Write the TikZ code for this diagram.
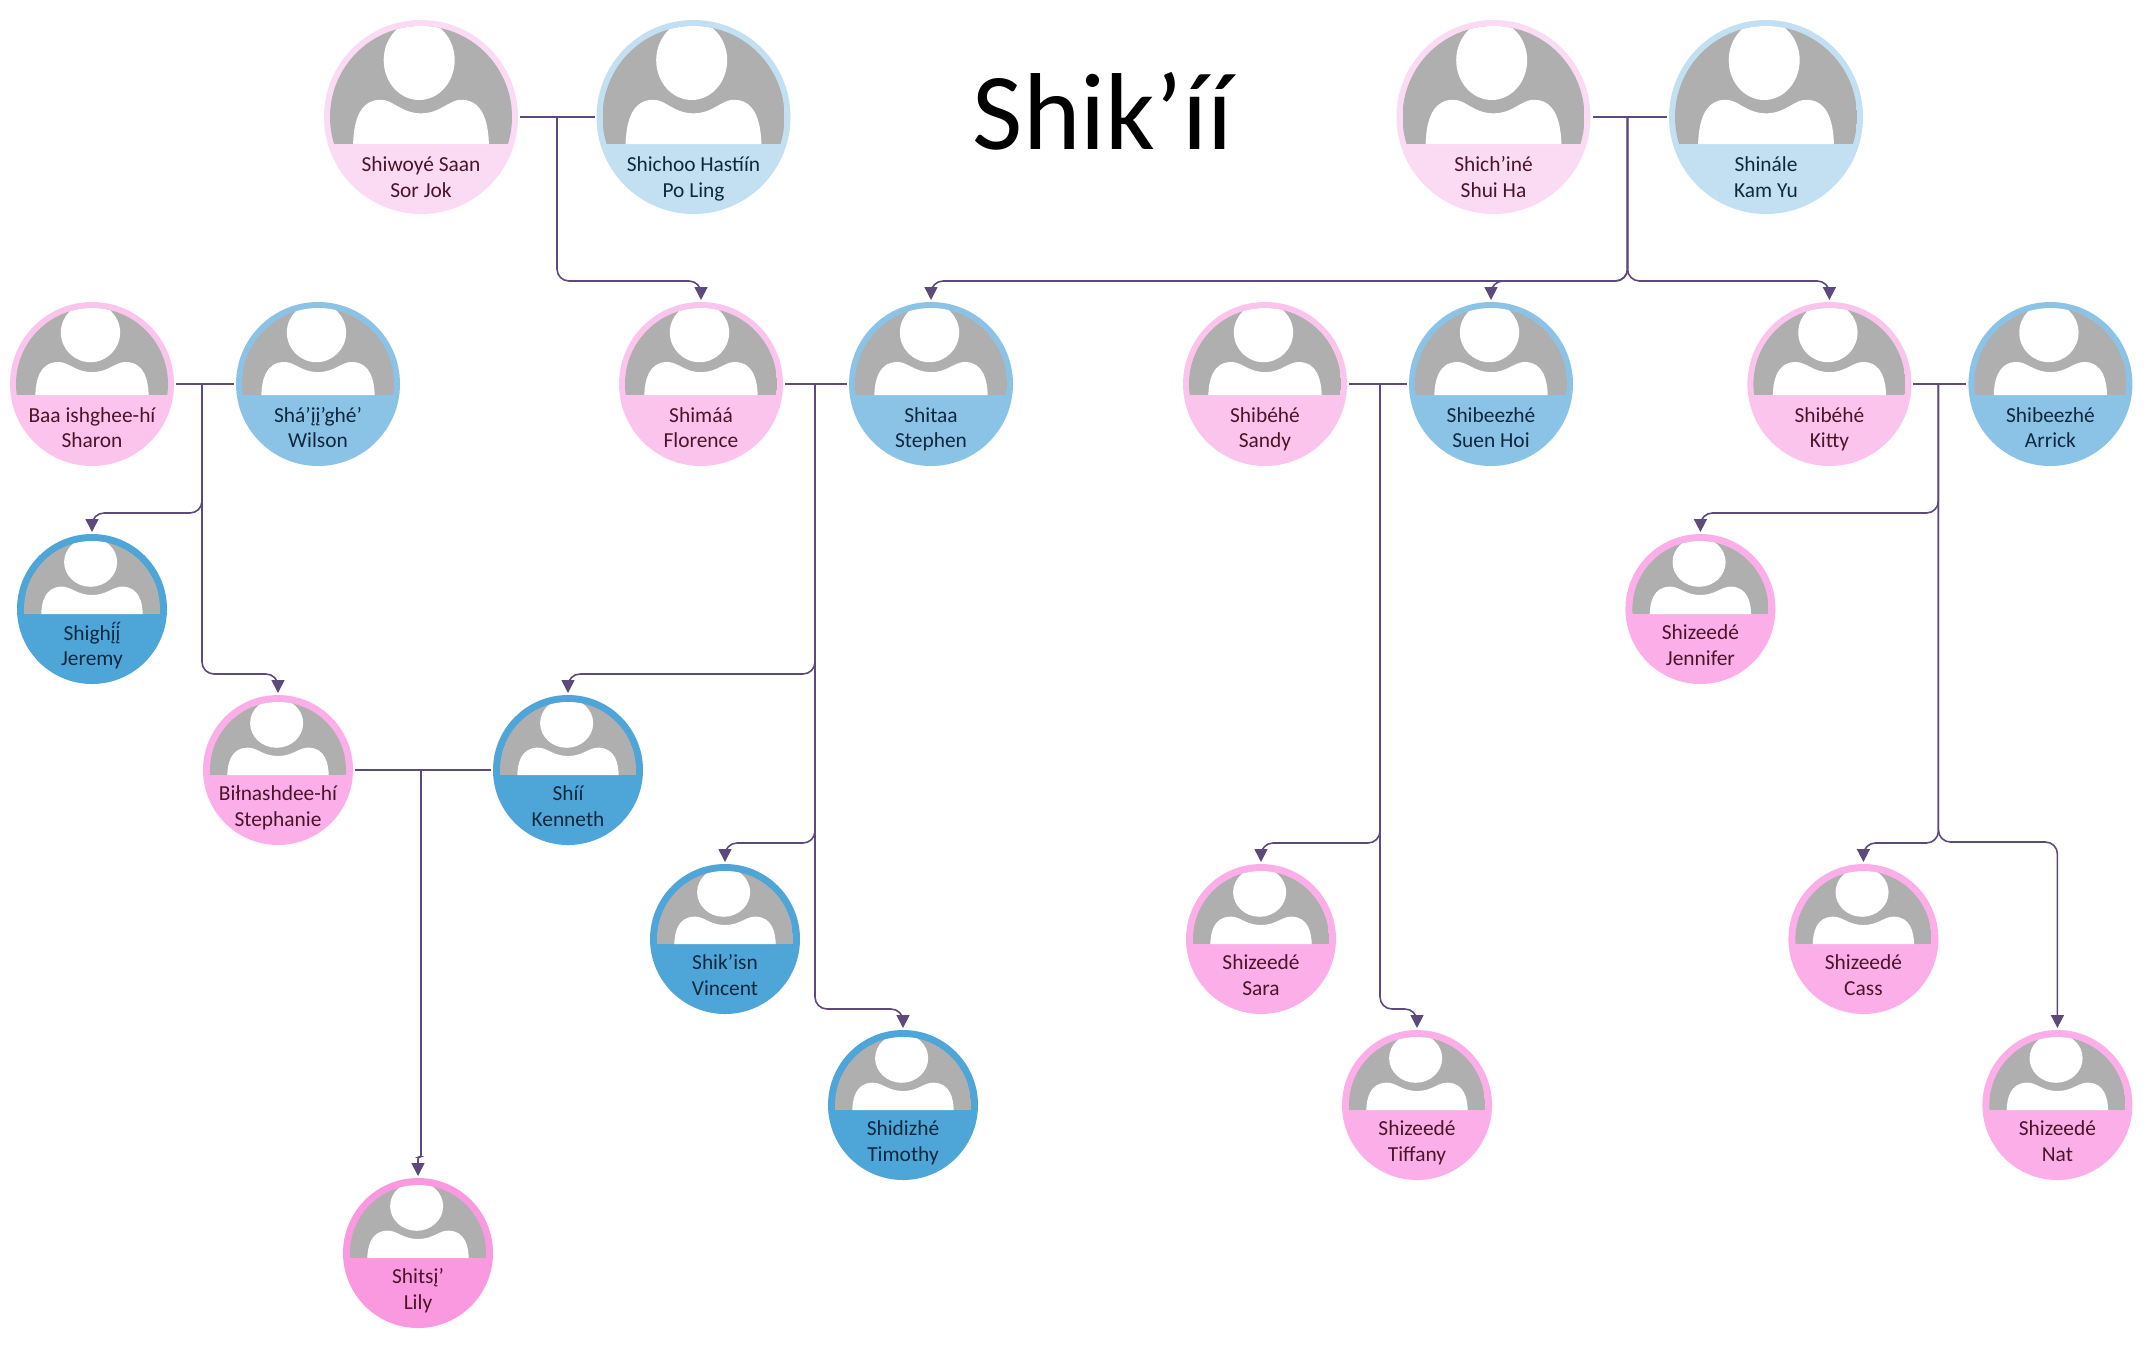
\documentclass[tikz,border=0pt]{standalone}
\usepackage{fontspec}
\setmainfont{Carlito}
\newfontfamily\markfont[Scale=0.92]{Lato}
\usepackage{xcolor}
\usepackage{tikz}
\usetikzlibrary{arrows.meta,calc,positioning}

\definecolor{herA}{HTML}{FBDAF3}
\definecolor{herB}{HTML}{FBC4EC}
\definecolor{herC}{HTML}{FCAEE8}
\definecolor{herD}{HTML}{FA98E0}
\definecolor{himA}{HTML}{C2E0F1}
\definecolor{himB}{HTML}{8BC3E6}
\definecolor{himC}{HTML}{4EA5D8}
\definecolor{wine}{HTML}{4A1528}
\definecolor{navy}{HTML}{10283E}
\definecolor{linkline}{HTML}{5C4A7C}
\definecolor{facegrey}{HTML}{AFAFAF}

% inner radius, band below centre, height from band to top of the inner circle
\newcommand{\avatar}[3]{%
  \def\fp##1##2{({(##1)*#1},{(##2)*#3-#2})}%
  \begin{scope}[shift={(path picture bounding box.center)}]
    \clip (0,0) circle (#1);
    \clip (-#1,#1) rectangle (#1,-#2);
    \fill[facegrey] (-#1,#1) rectangle (#1,-#2);
    \fill[white] \fp{-.02}{.71} ellipse [x radius=.39*#1,y radius=.337*#3];
    \fill[white] \fp{-.746}{0} .. controls \fp{-.74}{.15} and \fp{-.70}{.37} .. \fp{-.45}{.375}
      .. controls \fp{-.31}{.38} and \fp{-.22}{.26} .. \fp{0}{.26}
      .. controls \fp{.22}{.26} and \fp{.31}{.38} .. \fp{.45}{.375}
      .. controls \fp{.70}{.37} and \fp{.74}{.15} .. \fp{.746}{0} -- cycle;
  \end{scope}}
\newcommand{\who}[2]{\makebox[0pt]{\raisebox{\whoshift}[0pt][0pt]{\begin{tabular}{@{}c@{}}#1\\#2\end{tabular}}}}
\newcommand{\childline}[3][9.5pt]{\draw[child line] (#2) |- ($(#3.north)+(0,#1)$) -- (#3.north);}

\tikzset{>={Triangle[length=6.5pt,width=6.5pt]}}
\tikzset{person/.style={circle,inner sep=0pt,outer sep=1pt,font=\fontsize{10.7pt}{12.75pt}\selectfont},
         big node/.style={person,minimum size=97pt,path picture={\avatar{45.5pt}{13.5pt}{59pt}},
                          execute at begin node={\def\whoshift{-34pt}}},
         mid node/.style={person,minimum size=82pt,path picture={\avatar{38pt}{5.5pt}{44pt}},
                          execute at begin node={\def\whoshift{-25.7pt}}},
         small node/.style={person,minimum size=75pt,path picture={\avatar{34pt}{2.5pt}{36.5pt}},
                          execute at begin node={\def\whoshift{-22pt}}},
         her/.style={fill=#1,text=wine},
         him/.style={fill=#1,text=navy},
         bond line/.style={draw=linkline,line width=.8pt},
         child line/.style={bond line,->,rounded corners=6pt},
         title/.style={font=\fontsize{54.7pt}{60pt}\selectfont,text=black,anchor=base},
            }

\begin{document}
\begin{tikzpicture}[on grid]

    \useasboundingbox (0,0) rectangle (1075pt,-673pt);

    \node[title] (title) at (551.5pt,-74.5pt) {Shik’íí};

    \node[big node,her=herA] (shiwoye) at (210.5pt,-58.5pt) {\who{Shiwoyé Saan}{Sor Jok}};
    \node[big node,him=himA] (shichoo) [right = 136.25pt of shiwoye] {\who{Shichoo Hastíín}{Po Ling}};
    \node[big node,her=herA] (shuiha) [right = 400pt of shichoo] {\who{Shich’iné}{Shui Ha}};
    \node[big node,him=himA] (kamyu) [right = 136.25pt of shuiha] {\who{Shinále}{Kam Yu}};

    \node[mid node,her=herB] (florence) [below right = 133.5pt and 140pt of shiwoye] {\who{Shimáá}{Florence}};
    \node[mid node,him=himB] (stephen) [right = 115pt of florence] {\who{Shitaa}{Stephen}};
    \node[mid node,her=herB] (sharon) [left = 304.5pt of florence] {\who{Baa ishghee-hí}{Sharon}};
    \node[mid node,him=himB] (wilson) [right = 113pt of sharon] {\who{Shá’įį’ghé’}{Wilson}};
    \node[mid node,her=herB] (sandy) [right = 167pt of stephen] {\who{Shibéhé}{Sandy}};
    \node[mid node,him=himB] (suenhoi) [right = 113pt of sandy] {\who{Shibeezhé}{Suen Hoi}};
    \node[mid node,her=herB] (kitty) [right = 169.2pt of suenhoi] {\who{Shibéhé}{Kitty}};
    \node[mid node,him=himB] (arrick) [right = 110.5pt of kitty] {\who{Shibeezhé}{Arrick}};

    \node[small node,him=himC] (jeremy) [below = 112.5pt of sharon] {\who{Shigh{\markfont į́į́}}{Jeremy}};
    \node[small node,her=herC] (stephanie) [below right = 193pt and 93pt of sharon] {\who{Biłnashdee-hí}{Stephanie}};
    \node[small node,him=himC] (kenneth) [right = 145pt of stephanie] {\who{Shíí}{Kenneth}};
    \node[small node,her=herD] (lily) [below right = 241.5pt and 70pt of stephanie] {\who{Shitsį’}{Lily}};
    \node[small node,him=himC] (vincent) [below right = 277.5pt and 12pt of florence] {\who{Shik’isn}{Vincent}};
    \node[small node,him=himC] (timothy) [below left = 360.5pt and 14pt of stephen] {\who{Shidizhé}{Timothy}};
    \node[small node,her=herC] (sara) [below left = 277.5pt and 2pt of sandy] {\who{Shizeedé}{Sara}};
    \node[small node,her=herC] (tiffany) [below right = 360.5pt and 76pt of sandy] {\who{Shizeedé}{Tiffany}};
    \node[small node,her=herC] (jennifer) [below left = 112.5pt and 64.5pt of kitty] {\who{Shizeedé}{Jennifer}};
    \node[small node,her=herC] (cass) [below right = 277.5pt and 17pt of kitty] {\who{Shizeedé}{Cass}};
    \node[small node,her=herC] (nat) [below right = 360.5pt and 3.5pt of arrick] {\who{Shizeedé}{Nat}};

    \coordinate[right = 68pt of shiwoye] (bondA);
    \coordinate[right = 67pt of shuiha] (bondB);
    \coordinate[right = 55pt of sharon] (bondC);
    \coordinate[right = 57pt of florence] (bondD);
    \coordinate[right = 57.5pt of sandy] (bondE);
    \coordinate[right = 54.5pt of kitty] (bondF);
    \coordinate[right = 71.5pt of stephanie] (bondG);

    \path[bond line]
    (shiwoye) edge (shichoo)
    (shuiha) edge (kamyu)
    (sharon) edge (wilson)
    (florence) edge (stephen)
    (sandy) edge (suenhoi)
    (kitty) edge (arrick)
    (stephanie) edge (kenneth);

    \childline{bondA}{florence}
    \childline{bondB}{stephen}
    \childline{bondB}{suenhoi}
    \childline{bondB}{kitty}
    \childline{bondC}{jeremy}
    \childline{bondC}{stephanie}
    \childline{bondD}{kenneth}
    \childline{bondD}{vincent}
    \childline{bondD}{timothy}
    \childline{bondE}{sara}
    \childline{bondE}{tiffany}
    \childline{bondF}{jennifer}
    \childline{bondF}{cass}
    \childline[93pt]{bondF}{nat}
    \draw[child line,rounded corners=1pt] (bondG) |- ($(lily.north)+(0,9.5pt)$) -- (lily.north);

\end{tikzpicture}
\end{document}
